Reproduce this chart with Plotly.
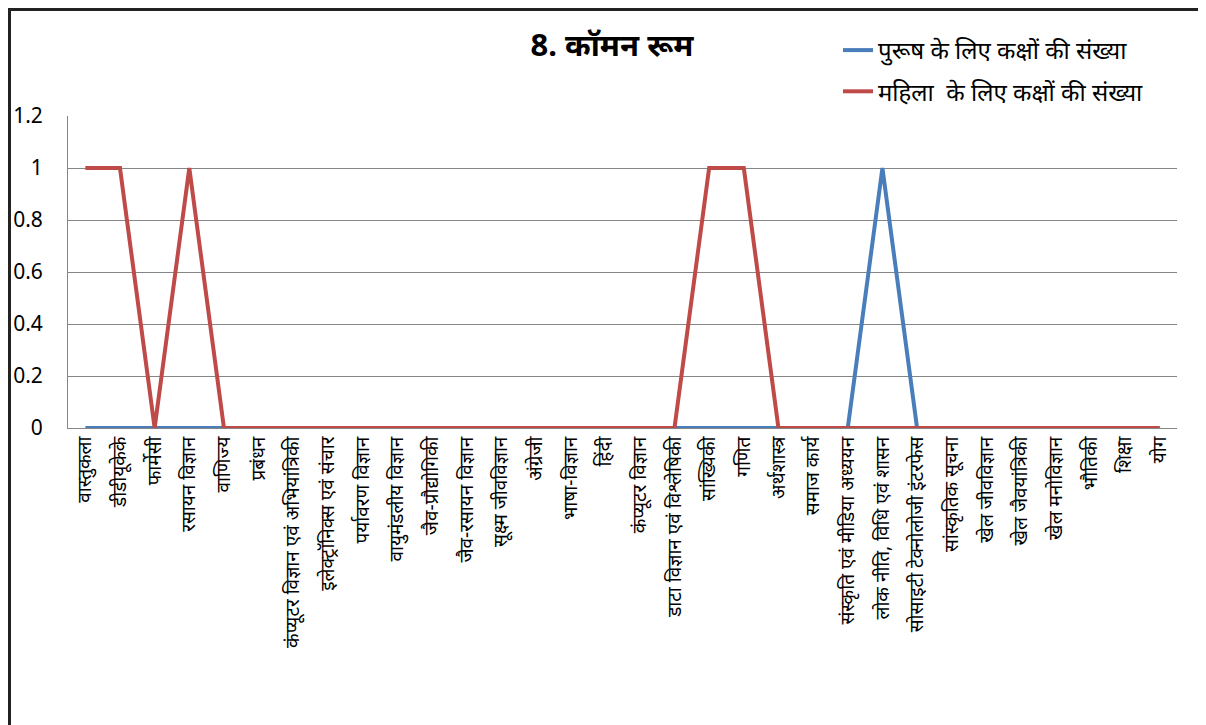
import plotly.graph_objects as go

categories = [
    "वास्तुकला", "डीडीयूकेके", "फार्मेसी", "रसायन विज्ञान", "वाणिज्य", "प्रबंधन",
    "कंप्यूटर विज्ञान एवं अभियांत्रिकी", "इलेक्ट्रॉनिक्स एवं संचार", "पर्यावरण विज्ञान",
    "वायुमंडलीय विज्ञान", "जैव-प्रौद्योगिकी", "जैव-रसायन विज्ञान", "सूक्ष्म जीवविज्ञान",
    "अंग्रेजी", "भाषा-विज्ञान", "हिंदी", "कंप्यूटर विज्ञान", "डाटा विज्ञान एवं विश्लेषिकी",
    "सांख्यिकी", "गणित", "अर्थशास्त्र", "समाज कार्य", "संस्कृति एवं मीडिया अध्ययन",
    "लोक नीति, विधि एवं शासन", "सोसाइटी टेक्नोलोजी इंटरफेस", "सांस्कृतिक सूचना",
    "खेल जीवविज्ञान", "खेल जैवयांत्रिकी", "खेल मनोविज्ञान", "भौतिकी", "शिक्षा", "योग",
]
men_rooms = [0, 0, 0, 0, 0, 0, 0, 0, 0, 0, 0, 0, 0, 0, 0, 0, 0, 0,
             0, 0, 0, 0, 0, 1, 0, 0, 0, 0, 0, 0, 0, 0]
women_rooms = [1, 1, 0, 1, 0, 0, 0, 0, 0, 0, 0, 0, 0, 0, 0, 0, 0, 0,
               1, 1, 0, 0, 0, 0, 0, 0, 0, 0, 0, 0, 0, 0]
men_name = "पुरूष के लिए कक्षों की संख्या"
women_name = "महिला  के लिए कक्षों की संख्या"
title_text = "8. कॉमन रूम"
y_ticks = [0, 0.2, 0.4, 0.6, 0.8, 1, 1.2]
y_tick_text = ["0", "0.2", "0.4", "0.6", "0.8", "1", "1.2"]

FONT = "Noto Sans, Noto Sans Devanagari, Lohit Devanagari, sans-serif"

# the page body adds an 8px margin; work in page pixels and offset
OFF = 8
FW, FH = 1206 - OFF, 725 - OFF

fig = go.Figure()
fig.add_trace(go.Scatter(x=categories, y=men_rooms, mode="lines", name=men_name,
                         line=dict(color="#4A7EBB", width=4), legendgroup="m"))
fig.add_trace(go.Scatter(x=categories, y=women_rooms, mode="lines", name=women_name,
                         line=dict(color="#BE4B48", width=4), legendgroup="w"))

# plot area page-pixel geometry
L, R, T, B = 68, 1177, 116, 428
W, H = R - L, B - T
def px(x):
    return (x - L) / W
def py(y):
    return (B - y) / H

fig.update_layout(
    width=FW, height=FH,
    margin=dict(l=L - OFF, r=1206 - R, t=T - OFF, b=725 - B, autoexpand=False),
    paper_bgcolor="white", plot_bgcolor="white",
    font=dict(family=FONT, color="#000000"),
    title=dict(text="<b>" + title_text + "</b>", x=(612 - OFF) / FW, xanchor="center",
               y=1 - (45 - OFF) / FH, yanchor="middle", font=dict(size=31, family=FONT)),
    showlegend=True,
    legend=dict(x=px(838), y=py(28), xanchor="left", yanchor="top",
                font=dict(size=24, family=FONT), traceorder="grouped",
                tracegroupgap=7, bgcolor="rgba(0,0,0,0)"),
    xaxis=dict(type="category", range=[-0.5, len(categories) - 0.5],
               tickangle=-90, tickfont=dict(size=19, family=FONT),
               showgrid=False, showline=True, linecolor="#868686", linewidth=1,
               ticks="", zeroline=False),
    yaxis=dict(range=[0, 1.2], tickvals=y_ticks, ticktext=y_tick_text,
               tickfont=dict(size=21, family=FONT), showgrid=True,
               gridcolor="#868686", gridwidth=1, showline=True,
               linecolor="#868686", linewidth=1, ticks="", ticklabelstandoff=20,
               zeroline=False),
    shapes=[
        dict(type="line", xref="paper", yref="paper", x0=px(8), x1=px(1206),
             y0=py(9.5), y1=py(9.5), line=dict(color="#222222", width=3)),
        dict(type="line", xref="paper", yref="paper", x0=px(9.5), x1=px(9.5),
             y0=py(8), y1=py(725), line=dict(color="#222222", width=3)),
    ],
)

fig.write_html("out.html")
